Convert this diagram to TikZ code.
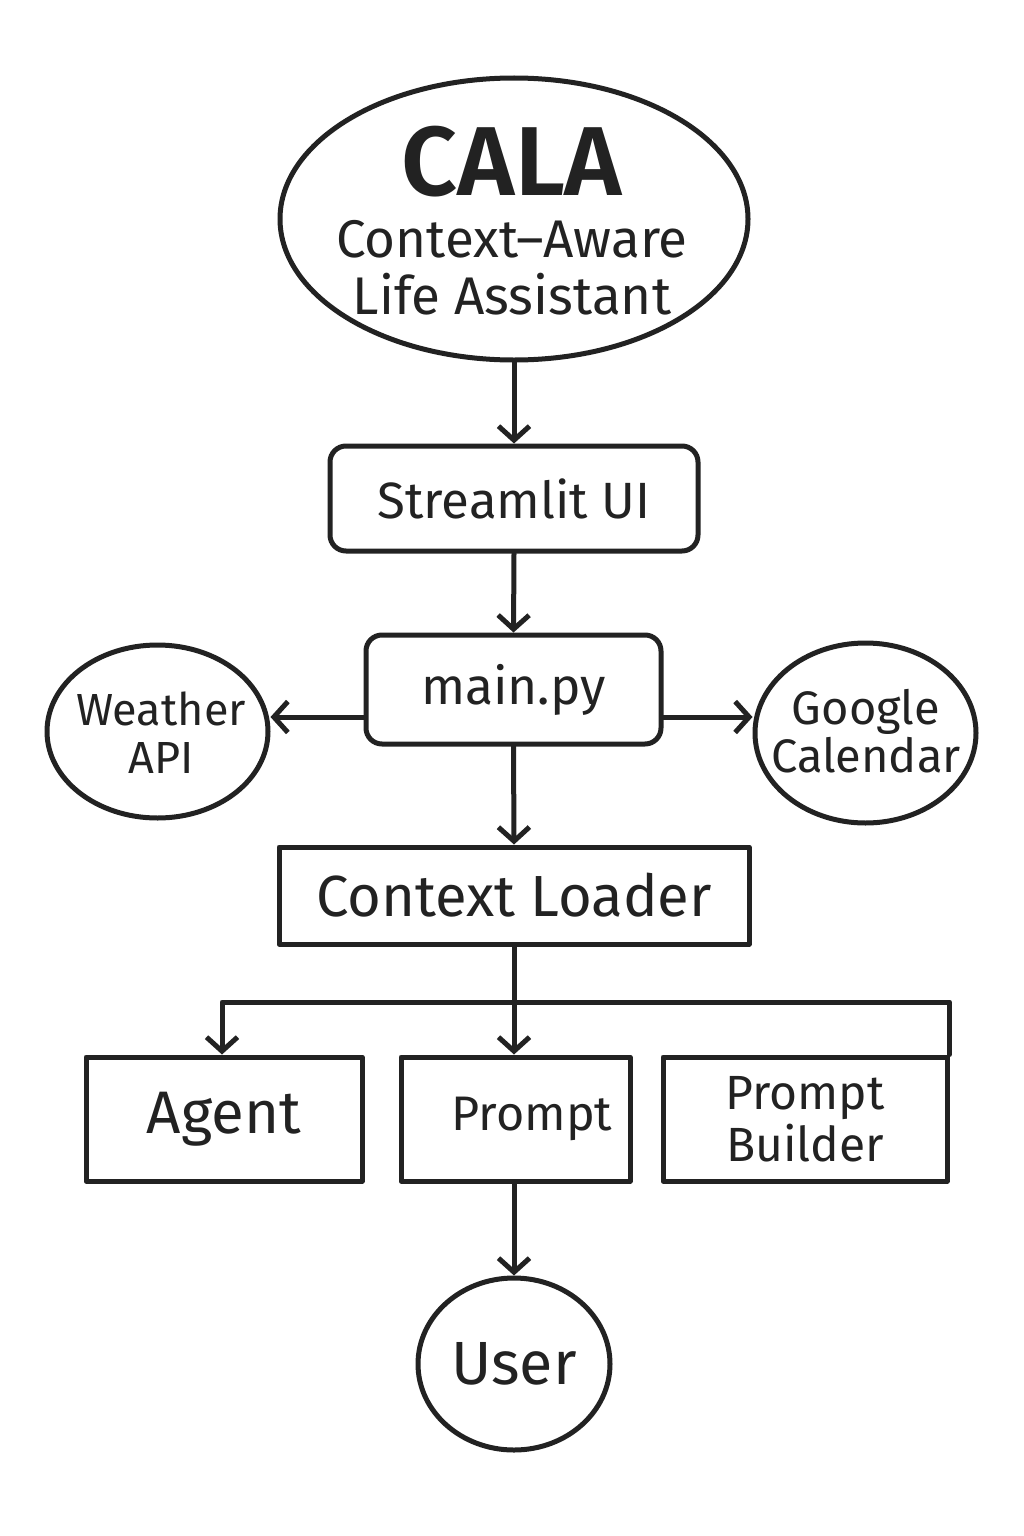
\documentclass[tikz,border=0pt]{standalone}
\usepackage{fontspec}
\setmainfont{Fira Sans}[BoldFont=Fira Sans SemiBold]
\usetikzlibrary{shapes.geometric,arrows.meta}
\definecolor{ink}{HTML}{222222}
\tikzset{
  every node/.style={text=ink},
  line/.style={draw=ink, line width=5pt, line cap=round, line join=round},
  arr/.style={line, -{Straight Barb[length=14pt,width=31pt,line width=5pt]}},
  rbox/.style={line, rectangle, rounded corners=16pt, inner sep=0pt, align=center},
  sbox/.style={line, rectangle, inner sep=0pt, align=center},
  oval/.style={line, ellipse, inner sep=0pt, align=center},
  lbl/.style={inner sep=0pt, align=center},
}
\begin{document}
\begin{tikzpicture}[x=1pt,y=-1pt]
\useasboundingbox[fill=white] (0,0) rectangle (1024,1536);

\node[oval, minimum width=468pt, minimum height=282pt] (cala) at (514,219) {};
\node[lbl, font=\fontsize{98}{98}\selectfont\bfseries] (calat) at (512,162) {CALA};
\node[lbl, font=\fontsize{53}{57}\selectfont] (calas) at (512,268) {Context–Aware\\Life Assistant};

\node[rbox, minimum width=368pt, minimum height=105pt, font=\fontsize{51}{51}\selectfont] (ui) at (514,498.5) {Streamlit UI};
\node[rbox, minimum width=295pt, minimum height=109pt, font=\fontsize{51.5}{51.5}\selectfont] (main) at (513.5,689.5) {main.py};

\node[oval, minimum width=221pt, minimum height=173pt] (weather) at (157.5,731.5) {};
\node[lbl, font=\fontsize{45}{48}\selectfont] (weathert) at (161,733) {Weather\\API};
\node[oval, minimum width=221pt, minimum height=180pt] (gcal) at (865.5,733) {};
\node[lbl, font=\fontsize{47}{48}\selectfont] (gcalt) at (866,731) {Google\\Calendar};

\node[sbox, minimum width=470pt, minimum height=97pt, font=\fontsize{58}{58}\selectfont] (loader) at (514,895.5) {Context Loader};

\node[sbox, minimum width=276pt, minimum height=124pt, font=\fontsize{60}{60}\selectfont] (agent) at (224,1119) {\raisebox{9pt}{Agent}};
\node[sbox, minimum width=229pt, minimum height=124pt, font=\fontsize{48.5}{48.5}\selectfont] (prompt) at (515.5,1119) {\hspace*{33pt}\raisebox{9pt}{Prompt}};
\node[sbox, minimum width=284pt, minimum height=124pt, font=\fontsize{48}{52}\selectfont] (builder) at (805,1119) {Prompt\\Builder};

\node[oval, minimum width=192pt, minimum height=172pt, font=\fontsize{61}{61}\selectfont] (user) at (514,1364) {User};

\draw[arr] (cala.south) -- (ui.north);
\draw[arr] (ui.south) -- (main.north);
\draw[arr] (main.west |- 0,717) -- (weather.east |- 0,717);
\draw[arr] (main.east |- 0,717) -- (gcal.west |- 0,717);
\draw[arr] (main.south) -- (loader.north);
\draw[arr] (loader.south) -- (prompt.north -| loader.south);
\draw[arr] (loader.south |- 0,1002) -| (agent.north -| 222,0);
\draw[line] (loader.south |- 0,1002) -| (builder.north east);
\draw[arr] (prompt.south -| 514,0) -- (user.north);
\end{tikzpicture}
\end{document}
